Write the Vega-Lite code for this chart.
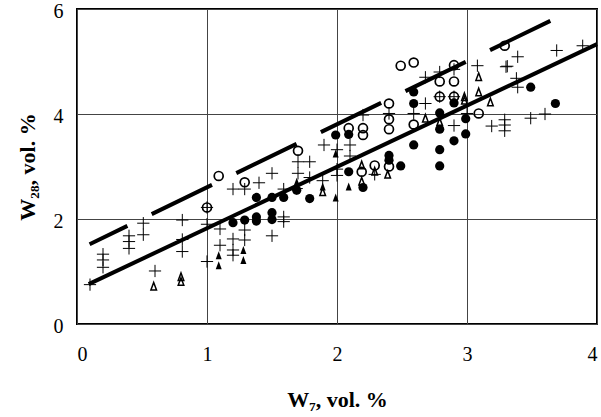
{
  "$schema": "https://vega.github.io/schema/vega-lite/v6.json",
  "width": 520,
  "height": 315,
  "autosize": {"type": "none"},
  "padding": {"left": 77, "top": 9, "right": 4, "bottom": 93},
  "config": {
    "font": "Liberation Serif",
    "view": {"stroke": "black", "strokeWidth": 2},
    "axis": {
      "domain": false,
      "ticks": false,
      "grid": true,
      "gridColor": "#444",
      "gridWidth": 1,
      "gridOpacity": 1,
      "labelFont": "Liberation Serif",
      "labelFontSize": 20,
      "labelColor": "black",
      "titleFont": "Liberation Serif",
      "titleFontSize": 22,
      "titleFontWeight": "bold",
      "titleColor": "black"
    }
  },
  "datasets": {
    "pts": [
      {"s": "plus", "x": 0.10, "y": 0.75},
      {"s": "plus", "x": 0.20, "y": 1.33},
      {"s": "plus", "x": 0.20, "y": 1.22},
      {"s": "plus", "x": 0.20, "y": 1.08},
      {"s": "plus", "x": 0.40, "y": 1.68},
      {"s": "plus", "x": 0.40, "y": 1.57},
      {"s": "plus", "x": 0.40, "y": 1.44},
      {"s": "plus", "x": 0.51, "y": 1.92},
      {"s": "plus", "x": 0.51, "y": 1.70},
      {"s": "plus", "x": 0.60, "y": 1.01},
      {"s": "plus", "x": 0.81, "y": 1.98},
      {"s": "plus", "x": 0.81, "y": 1.61},
      {"s": "plus", "x": 0.81, "y": 1.38},
      {"s": "plus", "x": 1.00, "y": 2.22},
      {"s": "plus", "x": 1.00, "y": 1.90},
      {"s": "plus", "x": 1.00, "y": 1.19},
      {"s": "plus", "x": 1.10, "y": 1.81},
      {"s": "plus", "x": 1.10, "y": 1.50},
      {"s": "plus", "x": 1.20, "y": 2.57},
      {"s": "plus", "x": 1.29, "y": 2.57},
      {"s": "plus", "x": 1.20, "y": 1.62},
      {"s": "plus", "x": 1.20, "y": 1.41},
      {"s": "plus", "x": 1.20, "y": 1.31},
      {"s": "plus", "x": 1.29, "y": 1.79},
      {"s": "plus", "x": 1.29, "y": 1.60},
      {"s": "plus", "x": 1.40, "y": 2.69},
      {"s": "plus", "x": 1.50, "y": 2.87},
      {"s": "plus", "x": 1.50, "y": 1.68},
      {"s": "plus", "x": 1.59, "y": 2.57},
      {"s": "plus", "x": 1.59, "y": 2.04},
      {"s": "plus", "x": 1.59, "y": 1.95},
      {"s": "plus", "x": 1.70, "y": 2.87},
      {"s": "plus", "x": 1.79, "y": 2.79},
      {"s": "plus", "x": 1.70, "y": 3.09},
      {"s": "plus", "x": 1.79, "y": 3.09},
      {"s": "plus", "x": 1.69, "y": 2.58},
      {"s": "plus", "x": 1.89, "y": 2.73},
      {"s": "plus", "x": 1.90, "y": 3.41},
      {"s": "plus", "x": 2.00, "y": 3.32},
      {"s": "plus", "x": 2.00, "y": 2.95},
      {"s": "plus", "x": 2.00, "y": 2.83},
      {"s": "plus", "x": 2.10, "y": 3.41},
      {"s": "plus", "x": 2.10, "y": 3.20},
      {"s": "plus", "x": 2.20, "y": 3.98},
      {"s": "plus", "x": 2.29, "y": 2.85},
      {"s": "plus", "x": 2.40, "y": 4.01},
      {"s": "plus", "x": 2.59, "y": 4.01},
      {"s": "plus", "x": 2.68, "y": 4.70},
      {"s": "plus", "x": 2.68, "y": 4.20},
      {"s": "plus", "x": 2.79, "y": 4.80},
      {"s": "plus", "x": 2.90, "y": 4.85},
      {"s": "plus", "x": 2.79, "y": 4.33},
      {"s": "plus", "x": 2.90, "y": 4.33},
      {"s": "plus", "x": 2.90, "y": 3.78},
      {"s": "plus", "x": 3.00, "y": 4.01},
      {"s": "plus", "x": 3.08, "y": 4.92},
      {"s": "plus", "x": 3.19, "y": 3.77},
      {"s": "plus", "x": 3.29, "y": 3.89},
      {"s": "plus", "x": 3.29, "y": 3.79},
      {"s": "plus", "x": 3.29, "y": 3.68},
      {"s": "plus", "x": 3.30, "y": 4.90},
      {"s": "plus", "x": 3.31, "y": 4.91},
      {"s": "plus", "x": 3.39, "y": 5.09},
      {"s": "plus", "x": 3.38, "y": 4.68},
      {"s": "plus", "x": 3.39, "y": 4.51},
      {"s": "plus", "x": 3.49, "y": 3.92},
      {"s": "plus", "x": 3.60, "y": 4.00},
      {"s": "plus", "x": 3.69, "y": 5.21},
      {"s": "plus", "x": 3.89, "y": 5.30},
      {"s": "ocirc", "x": 1.00, "y": 2.22},
      {"s": "ocirc", "x": 1.09, "y": 2.82},
      {"s": "ocirc", "x": 1.29, "y": 2.70},
      {"s": "ocirc", "x": 1.70, "y": 3.30},
      {"s": "ocirc", "x": 2.09, "y": 3.73},
      {"s": "ocirc", "x": 2.20, "y": 3.73},
      {"s": "ocirc", "x": 2.20, "y": 3.60},
      {"s": "ocirc", "x": 2.40, "y": 4.20},
      {"s": "ocirc", "x": 2.40, "y": 3.90},
      {"s": "ocirc", "x": 2.40, "y": 3.71},
      {"s": "ocirc", "x": 2.49, "y": 4.92},
      {"s": "ocirc", "x": 2.59, "y": 4.98},
      {"s": "ocirc", "x": 2.59, "y": 3.80},
      {"s": "ocirc", "x": 2.79, "y": 4.62},
      {"s": "ocirc", "x": 2.90, "y": 4.62},
      {"s": "ocirc", "x": 2.79, "y": 4.33},
      {"s": "ocirc", "x": 2.90, "y": 4.33},
      {"s": "ocirc", "x": 2.90, "y": 4.93},
      {"s": "ocirc", "x": 3.09, "y": 4.01},
      {"s": "ocirc", "x": 3.29, "y": 5.30},
      {"s": "ocirc", "x": 2.19, "y": 2.90},
      {"s": "ocirc", "x": 2.29, "y": 3.02},
      {"s": "ocirc", "x": 2.40, "y": 3.00},
      {"s": "fcirc", "x": 1.20, "y": 1.93},
      {"s": "fcirc", "x": 1.29, "y": 1.98},
      {"s": "fcirc", "x": 1.38, "y": 2.41},
      {"s": "fcirc", "x": 1.38, "y": 2.04},
      {"s": "fcirc", "x": 1.38, "y": 1.96},
      {"s": "fcirc", "x": 1.50, "y": 2.41},
      {"s": "fcirc", "x": 1.50, "y": 2.12},
      {"s": "fcirc", "x": 1.50, "y": 1.99},
      {"s": "fcirc", "x": 1.59, "y": 2.41},
      {"s": "fcirc", "x": 1.69, "y": 2.55},
      {"s": "fcirc", "x": 1.79, "y": 2.39},
      {"s": "fcirc", "x": 1.99, "y": 3.60},
      {"s": "fcirc", "x": 2.09, "y": 3.61},
      {"s": "fcirc", "x": 2.09, "y": 2.90},
      {"s": "fcirc", "x": 2.20, "y": 2.60},
      {"s": "fcirc", "x": 2.40, "y": 3.21},
      {"s": "fcirc", "x": 2.40, "y": 3.12},
      {"s": "fcirc", "x": 2.49, "y": 3.01},
      {"s": "fcirc", "x": 2.59, "y": 4.42},
      {"s": "fcirc", "x": 2.59, "y": 4.20},
      {"s": "fcirc", "x": 2.59, "y": 3.41},
      {"s": "fcirc", "x": 2.79, "y": 4.02},
      {"s": "fcirc", "x": 2.79, "y": 3.71},
      {"s": "fcirc", "x": 2.79, "y": 3.32},
      {"s": "fcirc", "x": 2.79, "y": 3.01},
      {"s": "fcirc", "x": 2.90, "y": 4.21},
      {"s": "fcirc", "x": 2.90, "y": 3.49},
      {"s": "fcirc", "x": 2.99, "y": 3.91},
      {"s": "fcirc", "x": 2.99, "y": 3.62},
      {"s": "fcirc", "x": 3.49, "y": 4.51},
      {"s": "fcirc", "x": 3.68, "y": 4.20},
      {"s": "ftri", "x": 1.09, "y": 1.31},
      {"s": "ftri", "x": 1.09, "y": 1.12},
      {"s": "ftri", "x": 1.28, "y": 1.41},
      {"s": "ftri", "x": 1.28, "y": 1.22},
      {"s": "ftri", "x": 1.69, "y": 2.71},
      {"s": "ftri", "x": 1.89, "y": 2.62},
      {"s": "ftri", "x": 1.99, "y": 3.25},
      {"s": "ftri", "x": 1.99, "y": 2.41},
      {"s": "ftri", "x": 2.09, "y": 2.62},
      {"s": "otri", "x": 0.59, "y": 0.72},
      {"s": "otri", "x": 0.80, "y": 0.90},
      {"s": "otri", "x": 0.80, "y": 0.81},
      {"s": "otri", "x": 1.89, "y": 2.52},
      {"s": "otri", "x": 2.19, "y": 3.03},
      {"s": "otri", "x": 2.19, "y": 2.72},
      {"s": "otri", "x": 2.29, "y": 2.91},
      {"s": "otri", "x": 2.39, "y": 2.85},
      {"s": "otri", "x": 2.68, "y": 3.92},
      {"s": "otri", "x": 2.79, "y": 3.85},
      {"s": "otri", "x": 2.98, "y": 4.33},
      {"s": "otri", "x": 2.98, "y": 4.26},
      {"s": "otri", "x": 3.09, "y": 4.71},
      {"s": "otri", "x": 3.09, "y": 4.42},
      {"s": "otri", "x": 3.18, "y": 4.23}
    ],
    "solid": [
      {"x": 0.09, "y": 0.76},
      {"x": 4.0, "y": 5.33}
    ],
    "dashed": [
      {"x": 0.097, "y": 1.52},
      {"x": 3.646, "y": 5.78}
    ]
  },
  "encoding": {
    "x": {
      "field": "x", "type": "quantitative",
      "scale": {"domain": [0, 4], "nice": false},
      "axis": {"values": [0, 1, 2, 3, 4], "title": "W₇, vol. %", "labelPadding": 20, "titlePadding": 25}
    },
    "y": {
      "field": "y", "type": "quantitative",
      "scale": {"domain": [0, 6], "nice": false},
      "axis": {"values": [0, 2, 4, 6], "title": "W₂₈, vol. %", "labelPadding": 14, "labelOffset": 2, "titlePadding": 14}
    }
  },
  "layer": [
    {
      "data": {"name": "solid"},
      "mark": {"type": "line", "color": "black", "strokeWidth": 4, "strokeCap": "butt"}
    },
    {
      "data": {"name": "dashed"},
      "mark": {"type": "line", "color": "black", "strokeWidth": 4, "strokeCap": "butt", "strokeDash": [67, 27], "strokeDashOffset": 25}
    },
    {
      "data": {"name": "pts"},
      "transform": [{"filter": "datum.s == 'plus'"}],
      "mark": {"type": "point", "shape": "M-1,0L1,0M0,-1L0,1", "filled": false, "stroke": "black", "strokeWidth": 1, "size": 150, "opacity": 1}
    },
    {
      "data": {"name": "pts"},
      "transform": [{"filter": "datum.s == 'ocirc'"}],
      "mark": {"type": "point", "shape": "circle", "filled": false, "stroke": "black", "strokeWidth": 1.7, "size": 80, "opacity": 1}
    },
    {
      "data": {"name": "pts"},
      "transform": [{"filter": "datum.s == 'fcirc'"}],
      "mark": {"type": "point", "shape": "circle", "filled": true, "fill": "black", "size": 85, "opacity": 1}
    },
    {
      "data": {"name": "pts"},
      "transform": [{"filter": "datum.s == 'ftri'"}],
      "mark": {"type": "point", "shape": "M0,-1L0.75,1L-0.75,1Z", "filled": true, "fill": "black", "size": 64, "opacity": 1}
    },
    {
      "data": {"name": "pts"},
      "transform": [{"filter": "datum.s == 'otri'"}],
      "mark": {"type": "point", "shape": "M0,-1L0.75,1L-0.75,1Z", "filled": false, "stroke": "black", "strokeWidth": 1.5, "size": 56, "opacity": 1}
    }
  ]
}
